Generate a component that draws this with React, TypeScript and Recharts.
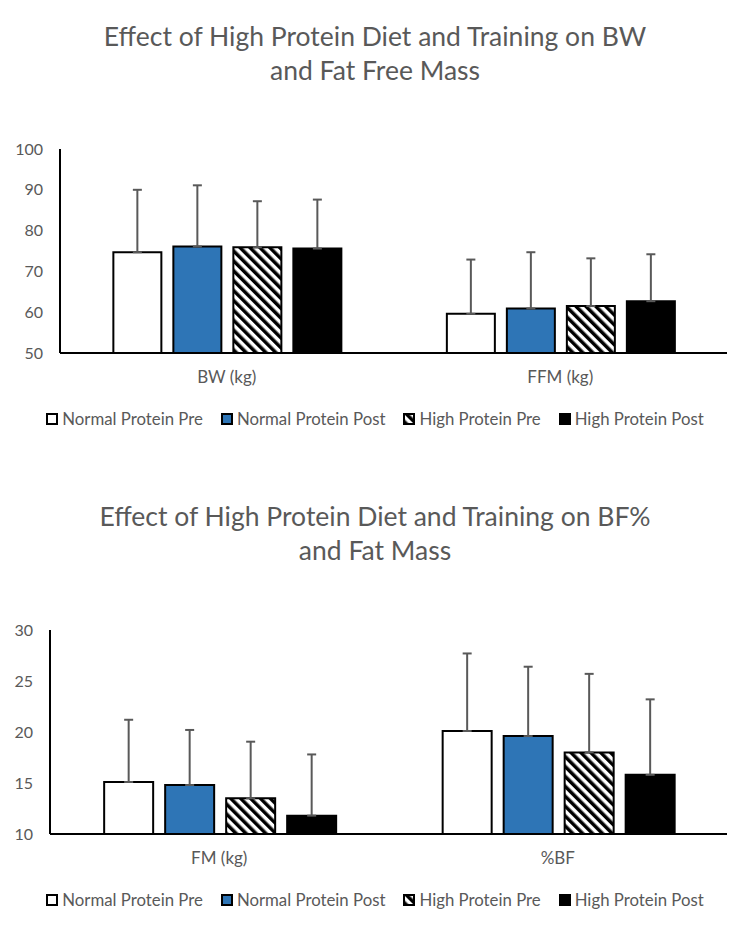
import React from 'react'
import { BarChart, Bar, XAxis, YAxis, ErrorBar } from 'recharts'

// top chart: body weight and fat free mass
const topCategories = ['BW (kg)', 'FFM (kg)']
const topNormalPre = [74.7, 59.6]
const topNormalPost = [76.1, 60.9]
const topHighPre = [75.9, 61.5]
const topHighPost = [75.6, 62.7]
const topNormalPreErr = [15.3, 13.3]
const topNormalPostErr = [15.0, 13.8]
const topHighPreErr = [11.3, 11.7]
const topHighPostErr = [12.0, 11.5]
const topTicks = [50, 60, 70, 80, 90, 100]

// bottom chart: fat mass and body fat %
const bottomCategories = ['FM (kg)', '%BF']
const bottomNormalPre = [15.1, 20.1]
const bottomNormalPost = [14.8, 19.6]
const bottomHighPre = [13.5, 18.0]
const bottomHighPost = [11.8, 15.8]
const bottomNormalPreErr = [6.1, 7.6]
const bottomNormalPostErr = [5.4, 6.8]
const bottomHighPreErr = [5.55, 7.7]
const bottomHighPostErr = [6.0, 7.4]
const bottomTicks = [10, 15, 20, 25, 30]

const seriesNames = ['Normal Protein Pre', 'Normal Protein Post', 'High Protein Pre', 'High Protein Post']

const FONT = 'Lato, "Open Sans", sans-serif'
const GREY = '#595959'
const BLUE = '#2E75B6'

function buildRows(
  cats: string[],
  a: number[], b: number[], c: number[], d: number[],
  ea: number[], eb: number[], ec: number[], ed: number[]
) {
  return cats.map((cat, i) => ({
    category: cat,
    npPre: a[i],
    npPost: b[i],
    hpPre: c[i],
    hpPost: d[i],
    npPreErr: [0, ea[i]],
    npPostErr: [0, eb[i]],
    hpPreErr: [0, ec[i]],
    hpPostErr: [0, ed[i]],
  }))
}

const topData = buildRows(
  topCategories, topNormalPre, topNormalPost, topHighPre, topHighPost,
  topNormalPreErr, topNormalPostErr, topHighPreErr, topHighPostErr
)
const bottomData = buildRows(
  bottomCategories, bottomNormalPre, bottomNormalPost, bottomHighPre, bottomHighPost,
  bottomNormalPreErr, bottomNormalPostErr, bottomHighPreErr, bottomHighPostErr
)

function Hatch({ id }: { id: string }) {
  return (
    <defs>
      <pattern id={id} patternUnits="userSpaceOnUse" width={7} height={7} patternTransform="rotate(-45)">
        <rect x={0} y={0} width={7} height={7} fill="#fff" />
        <rect x={0} y={0} width={3.5} height={7} fill="#000" />
      </pattern>
    </defs>
  )
}

function Title({ top, lines }: { top: number; lines: string[] }) {
  return (
    <div
      style={{
        position: 'absolute',
        top,
        left: 0,
        width: 750,
        textAlign: 'center',
        fontFamily: FONT,
        fontSize: 26.5,
        lineHeight: '34px',
        color: GREY,
      }}
    >
      {lines.map((l) => (
        <div key={l}>{l}</div>
      ))}
    </div>
  )
}

function LegendRow({ top, hatchId }: { top: number; hatchId: string }) {
  const fills = ['#fff', BLUE, `url(#${hatchId})`, '#000']
  return (
    <div
      style={{
        position: 'absolute',
        top,
        left: 0,
        width: 750,
        display: 'flex',
        justifyContent: 'center',
        gap: 18,
        fontFamily: FONT,
        fontSize: 16.8,
        color: GREY,
      }}
    >
      {seriesNames.map((name, i) => (
        <div key={name} style={{ display: 'flex', alignItems: 'center', gap: 4 }}>
          <svg width={12} height={12}>
            <rect x={1} y={1} width={10} height={10} fill={fills[i]} stroke="#000" strokeWidth={2} />
          </svg>
          <span>{name}</span>
        </div>
      ))}
    </div>
  )
}

type Row = ReturnType<typeof buildRows>[number]

function Chart({
  data, ticks, domain, hatchId, yWidth, marginLeft,
}: {
  data: Row[]; ticks: number[]; domain: [number, number]; hatchId: string; yWidth: number; marginLeft: number
}) {
  const yTickStyle = { fontFamily: FONT, fontSize: 16, fill: GREY }
  const xTickStyle = { fontFamily: FONT, fontSize: 17, fill: GREY }
  const err = { direction: 'y' as const, width: 4.5, strokeWidth: 2, stroke: GREY }
  return (
    <BarChart
      width={750}
      height={400}
      data={data}
      margin={{ top: 149, right: 23, bottom: 7, left: marginLeft }}
      barCategoryGap="16%"
      barGap={12}
    >
      <Hatch id={hatchId} />
      <XAxis
        dataKey="category"
        tickLine={false}
        axisLine={{ stroke: '#000', strokeWidth: 2 }}
        tick={xTickStyle}
        tickMargin={12}
        height={40}
      />
      <YAxis
        type="number"
        domain={domain}
        ticks={ticks}
        interval={0}
        tickLine={false}
        axisLine={{ stroke: '#000', strokeWidth: 2 }}
        tick={yTickStyle}
        tickMargin={11}
        width={yWidth}
      />
      <Bar dataKey="npPre" name={seriesNames[0]} fill="#fff" stroke="#000" strokeWidth={2} isAnimationActive={false}>
        <ErrorBar dataKey="npPreErr" {...err} />
      </Bar>
      <Bar dataKey="npPost" name={seriesNames[1]} fill={BLUE} stroke="#000" strokeWidth={2} isAnimationActive={false}>
        <ErrorBar dataKey="npPostErr" {...err} />
      </Bar>
      <Bar dataKey="hpPre" name={seriesNames[2]} fill={`url(#${hatchId})`} stroke="#000" strokeWidth={2} isAnimationActive={false}>
        <ErrorBar dataKey="hpPreErr" {...err} />
      </Bar>
      <Bar dataKey="hpPost" name={seriesNames[3]} fill="#000" stroke="#000" strokeWidth={2} isAnimationActive={false}>
        <ErrorBar dataKey="hpPostErr" {...err} />
      </Bar>
    </BarChart>
  )
}

export default function App() {
  return (
    <div style={{ position: 'absolute', top: 0, left: 0, width: 750, height: 931, background: '#fff' }}>
      <Title top={19} lines={['Effect of High Protein Diet and Training on BW', 'and Fat Free Mass']} />
      <div style={{ position: 'absolute', top: 0, left: 0 }}>
        <Chart data={topData} ticks={topTicks} domain={[50, 100]} hatchId="hatchTop" yWidth={45} marginLeft={15} />
      </div>
      <LegendRow top={408} hatchId="hatchTop" />

      <Title top={499} lines={['Effect of High Protein Diet and Training on BF%', 'and Fat Mass']} />
      <div style={{ position: 'absolute', top: 481, left: 0 }}>
        <Chart data={bottomData} ticks={bottomTicks} domain={[10, 30]} hatchId="hatchBottom" yWidth={40} marginLeft={10} />
      </div>
      <LegendRow top={889} hatchId="hatchBottom" />
    </div>
  )
}
